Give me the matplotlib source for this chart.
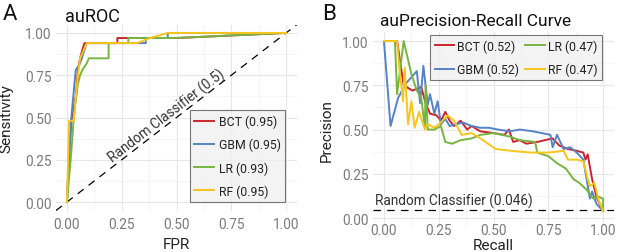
import matplotlib
matplotlib.use("Agg")
import matplotlib.pyplot as plt
import numpy as np

plt.rcParams['font.family'] = ['Roboto', 'DejaVu Sans']

models = ["BCT", "GBM", "LR", "RF"]
colors = {"BCT": "#c8262c", "GBM": "#5682c6", "LR": "#76b640", "RF": "#f7c51b"}
auroc = {"BCT": "0.95", "GBM": "0.95", "LR": "0.93", "RF": "0.95"}
auprc = {"BCT": "0.52", "GBM": "0.52", "LR": "0.47", "RF": "0.47"}

# ROC curves
roc_fpr = {
    "BCT": [0, 0.01, 0.02, 0.04, 0.05, 0.06, 0.07, 0.08, 0.23, 0.23, 0.28, 0.50, 1.0],
    "GBM": [0, 0.01, 0.02, 0.04, 0.06, 0.08, 0.09, 0.32, 0.36, 0.36, 0.46, 0.46, 1.0],
    "LR":  [0, 0.02, 0.03, 0.04, 0.05, 0.06, 0.07, 0.08, 0.09, 0.10, 0.19, 0.19, 0.28, 0.28, 0.49, 0.49, 1.0],
    "RF":  [0, 0.01, 0.03, 0.05, 0.06, 0.09, 0.32, 0.38, 0.46, 1.0],
}
roc_tpr = {
    "BCT": [0, 0.30, 0.48, 0.62, 0.78, 0.85, 0.90, 0.94, 0.94, 0.97, 0.97, 0.97, 1.0],
    "GBM": [0, 0.25, 0.50, 0.78, 0.82, 0.90, 0.94, 0.94, 0.94, 0.97, 0.97, 1.0, 1.0],
    "LR":  [0, 0.30, 0.48, 0.60, 0.70, 0.75, 0.78, 0.80, 0.82, 0.85, 0.85, 0.94, 0.94, 0.97, 0.97, 0.97, 1.0],
    "RF":  [0, 0.48, 0.48, 0.75, 0.85, 0.94, 0.94, 0.97, 1.0, 1.0],
}

# Precision-recall curves
pr_recall = {
    "BCT": [0, 0.06, 0.09, 0.13, 0.17, 0.19, 0.21, 0.24, 0.26, 0.28, 0.30, 0.32, 0.35, 0.38, 0.40, 0.44, 0.50,
            0.55, 0.57, 0.59, 0.62, 0.65, 0.70, 0.77, 0.80, 0.84, 0.88, 0.91, 0.92, 0.93, 0.95, 0.97, 1.0],
    "GBM": [0, 0.03, 0.065, 0.10, 0.15, 0.165, 0.18, 0.20, 0.21, 0.23, 0.245, 0.26, 0.28, 0.30, 0.33, 0.36, 0.40,
            0.44, 0.48, 0.52, 0.575, 0.62, 0.68, 0.76, 0.77, 0.79, 0.82, 0.85, 0.88, 0.91, 0.94, 0.95, 0.97, 1.0],
    "LR":  [0, 0.05, 0.06, 0.09, 0.126, 0.15, 0.17, 0.187, 0.19, 0.20, 0.23, 0.26, 0.28, 0.31, 0.35, 0.40, 0.44,
            0.50, 0.575, 0.62, 0.69, 0.70, 0.75, 0.79, 0.83, 0.865, 0.89, 0.925, 0.955, 0.98, 1.0, 1.0],
    "RF":  [0, 0.06, 0.07, 0.087, 0.095, 0.11, 0.125, 0.14, 0.16, 0.187, 0.20, 0.23, 0.26, 0.29, 0.32, 0.355,
            0.40, 0.44, 0.51, 0.58, 0.67, 0.75, 0.82, 0.84, 0.88, 0.91, 0.93, 0.94, 0.96, 0.98, 1.0],
}
pr_precision = {
    "BCT": [1.0, 1.0, 0.75, 0.72, 0.74, 0.65, 0.59, 0.58, 0.55, 0.60, 0.55, 0.52, 0.55, 0.50, 0.52, 0.49, 0.48,
            0.47, 0.50, 0.43, 0.44, 0.42, 0.43, 0.45, 0.41, 0.39, 0.38, 0.37, 0.33, 0.36, 0.22, 0.12, 0.04],
    "GBM": [1.0, 0.52, 0.68, 0.76, 0.83, 0.65, 0.86, 0.64, 0.70, 0.59, 0.66, 0.53, 0.56, 0.52, 0.53, 0.54, 0.52,
            0.51, 0.51, 0.50, 0.49, 0.50, 0.49, 0.47, 0.40, 0.47, 0.39, 0.40, 0.37, 0.33, 0.11, 0.15, 0.08, 0.04],
    "LR":  [1.0, 1.0, 0.70, 1.0, 0.81, 0.72, 0.68, 0.51, 0.75, 0.50, 0.50, 0.52, 0.43, 0.42, 0.44, 0.45, 0.47,
            0.48, 0.46, 0.44, 0.43, 0.37, 0.35, 0.31, 0.28, 0.22, 0.20, 0.16, 0.11, 0.12, 0.11, 0.04],
    "RF":  [1.0, 1.0, 0.85, 0.66, 0.85, 0.53, 0.66, 0.51, 0.60, 0.50, 0.53, 0.51, 0.54, 0.58, 0.55, 0.47,
            0.48, 0.45, 0.39, 0.38, 0.37, 0.37, 0.38, 0.33, 0.33, 0.32, 0.22, 0.18, 0.20, 0.10, 0.04],
}
baseline_pr = 0.046

W, H = 617, 253
fig = plt.figure(figsize=(W / 100, H / 100), dpi=100)

tick_color = "#7a7a7a"
grid_major = "#e6e6e6"
grid_minor = "#f1f1f1"
FS_TICK = 9.8
FS_LEG = 8.8
FS_LAB = 11

def style_axes(ax, xpad):
    ax.set_xlim(-0.05, 1.05)
    ax.set_ylim(-0.05, 1.05)
    ticks = [0, 0.25, 0.5, 0.75, 1.0]
    labels = ["0.00", "0.25", "0.50", "0.75", "1.00"]
    ax.set_xticks(ticks)
    ax.set_yticks(ticks)
    ax.set_xticklabels(labels)
    ax.set_yticklabels(labels)
    ax.set_xticks([0.125, 0.375, 0.625, 0.875], minor=True)
    ax.set_yticks([0.125, 0.375, 0.625, 0.875], minor=True)
    ax.grid(True, which="major", color=grid_major, lw=0.8)
    ax.grid(True, which="minor", color=grid_minor, lw=0.5)
    ax.set_axisbelow(True)
    for s in ax.spines.values():
        s.set_visible(False)
    ax.tick_params(which="both", length=0, labelsize=FS_TICK, labelcolor=tick_color)
    ax.tick_params(axis="x", pad=xpad)
    ax.tick_params(axis="y", pad=3)

def style_legend(leg):
    leg.get_frame().set_facecolor("#f0f0f0")
    leg.get_frame().set_linewidth(0.8)
    for t in leg.get_texts():
        t.set_color("#222222")

# Panel A
axA = fig.add_axes([56 / W, 1 - 211.5 / H, 241 / W, 186 / H])
style_axes(axA, xpad=5)
axA.plot([-0.1, 1.1], [-0.1, 1.1], ls=(0, (6, 5)), color="black", lw=0.9)
for m in models:
    axA.plot(roc_fpr[m], roc_tpr[m], color=colors[m], lw=1.4,
             label=f"{m} ({auroc[m]})", solid_joinstyle="round")
ang = np.degrees(np.arctan2(169, 219))
axA.text(0.475, 0.475, "Random Classifier (0.5)", rotation=ang, rotation_mode="anchor",
         ha="center", va="bottom", fontsize=FS_TICK, color="#333333")
axA.set_xlabel("FPR", fontsize=FS_LAB, color="#222222")
axA.set_ylabel("Sensitivity", fontsize=FS_LAB, color="#222222")
axA.xaxis.set_label_coords(0.5, -0.14)
axA.yaxis.set_label_coords(-0.178, 0.5)
axA.set_title("auROC", fontsize=13, loc="left", color="#111111", pad=1, x=0.037)
legA = axA.legend(loc="lower right", bbox_to_anchor=(285 / W, 1 - 203 / H),
                  bbox_transform=fig.transFigure, fontsize=FS_LEG, frameon=True,
                  fancybox=False, edgecolor="#555555", handlelength=1.6,
                  labelspacing=0.8, borderpad=0.35, handletextpad=0.4, borderaxespad=0)
style_legend(legA)

# Panel B
axB = fig.add_axes([373 / W, 1 - 227.9 / H, 241 / W, 194.7 / H])
style_axes(axB, xpad=-3)
axB.axhline(baseline_pr, ls=(0, (6, 5)), color="black", lw=0.9)
for m in models:
    axB.plot(pr_recall[m], pr_precision[m], color=colors[m], lw=1.4,
             label=f"{m} ({auprc[m]})", solid_joinstyle="round")
axB.text(-0.04, baseline_pr + 0.008, f"Random Classifier ({baseline_pr:.3f})",
         ha="left", va="bottom", fontsize=FS_TICK, color="#333333")
axB.set_xlabel("Recall", fontsize=FS_LAB, color="#222222")
axB.set_ylabel("Precision", fontsize=FS_LAB, color="#222222")
axB.xaxis.set_label_coords(0.5, -0.058)
axB.yaxis.set_label_coords(-0.162, 0.5)
axB.set_title("auPrecision-Recall Curve", fontsize=12.5, loc="left", color="#111111", pad=5, x=0.029)
legB = axB.legend(loc="upper right", bbox_to_anchor=(602 / W, 1 - 36 / H),
                  bbox_transform=fig.transFigure, fontsize=FS_LEG, ncol=2, frameon=True,
                  fancybox=False, edgecolor="#555555", handlelength=1.6,
                  labelspacing=0.8, borderpad=0.35, handletextpad=0.25, columnspacing=0.5,
                  borderaxespad=0)
style_legend(legB)

fig.text(3 / W, 1 - 20 / H, "A", fontsize=16, color="#111111")
fig.text(322 / W, 1 - 20 / H, "B", fontsize=16, color="#111111")

fig.savefig("out.png", dpi=100)
